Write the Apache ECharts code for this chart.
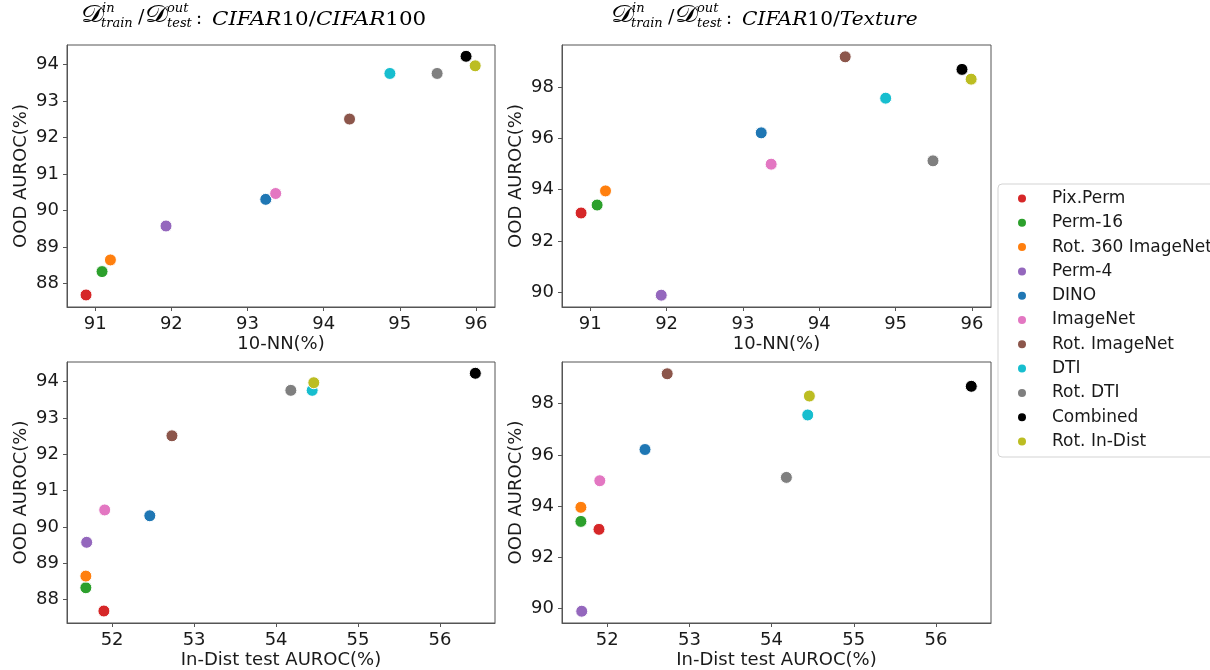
<!DOCTYPE html>
<html>
<head>
<meta charset="utf-8">
<script src="https://cdn.jsdelivr.net/npm/echarts@6/dist/echarts.min.js"></script>
<style>
  html, body { margin: 0; padding: 0; background: #fff; }
  #chart { width: 1210px; height: 670px; }
</style>
</head>
<body>
<div id="chart"></div>
<script>
// ---- data ----
const methods = ['Pix.Perm', 'Perm-16', 'Rot. 360 ImageNet', 'Perm-4', 'DINO', 'ImageNet',
                 'Rot. ImageNet', 'DTI', 'Rot. DTI', 'Combined', 'Rot. In-Dist'];
const colors = ['#d62728', '#2ca02c', '#ff7f0e', '#9467bd', '#1f77b4', '#e377c2',
                '#8c564b', '#17becf', '#7f7f7f', '#000000', '#bcbd22'];
const knn     = [90.88, 91.09, 91.20, 91.93, 93.24, 93.37, 94.34, 94.87, 95.49, 95.87, 95.99];
const inDist  = [51.90, 51.68, 51.68, 51.69, 52.46, 51.91, 52.73, 54.44, 54.18, 56.43, 54.46];
const oodC100 = [87.69, 88.33, 88.65, 89.58, 90.31, 90.47, 92.51, 93.76, 93.76, 94.23, 93.97];
const oodTex  = [93.09, 93.40, 93.95, 89.89, 96.21, 94.99, 99.17, 97.56, 95.12, 98.68, 98.30];

const ticksKnn  = [91, 92, 93, 94, 95, 96];
const ticksInD  = [52, 53, 54, 55, 56];
const ticksC100 = [88, 89, 90, 91, 92, 93, 94];
const ticksTex  = [90, 92, 94, 96, 98];

// ---- layout ----
const grids = [
  { left: 67,  top: 45,  width: 428, height: 262 },
  { left: 562, top: 45,  width: 429, height: 262 },
  { left: 67,  top: 362, width: 428, height: 261 },
  { left: 562, top: 362, width: 429, height: 261 }
];
const spine = '#555';
const txt = '#1a1a1a';
const sans = 'DejaVu Sans';

function xAxis(gi, min, max, ticks, name) {
  return {
    type: 'value', gridIndex: gi, min: min, max: max,
    name: name, nameLocation: 'middle', nameGap: 28,
    nameTextStyle: { fontSize: 18, color: txt, fontFamily: sans },
    axisLine: { show: true, onZero: false, lineStyle: { color: spine, width: 1 } },
    axisTick: { show: true, length: 4, customValues: ticks, lineStyle: { color: spine } },
    axisLabel: { show: true, customValues: ticks, fontSize: 18, color: txt, fontFamily: sans, margin: 8 },
    splitLine: { show: false }
  };
}
function yAxis(gi, min, max, ticks, name) {
  return {
    type: 'value', gridIndex: gi, min: min, max: max,
    name: name, nameLocation: 'middle', nameGap: 37,
    nameTextStyle: { fontSize: 18, color: txt, fontFamily: sans },
    axisLine: { show: true, onZero: false, lineStyle: { color: spine, width: 1 } },
    axisTick: { show: true, length: 4, customValues: ticks, lineStyle: { color: spine } },
    axisLabel: { show: true, customValues: ticks, fontSize: 18, color: txt, fontFamily: sans, margin: 8 },
    splitLine: { show: false }
  };
}

const xAxes = [
  xAxis(0, 90.63, 96.25, ticksKnn, '10-NN(%)'),
  xAxis(1, 90.63, 96.25, ticksKnn, '10-NN(%)'),
  xAxis(2, 51.45, 56.67, ticksInD, 'In-Dist test AUROC(%)'),
  xAxis(3, 51.45, 56.67, ticksInD, 'In-Dist test AUROC(%)')
];
const yAxes = [
  yAxis(0, 87.36, 94.54, ticksC100, 'OOD AUROC(%)'),
  yAxis(1, 89.43, 99.63, ticksTex, 'OOD AUROC(%)'),
  yAxis(2, 87.36, 94.54, ticksC100, 'OOD AUROC(%)'),
  yAxis(3, 89.43, 99.63, ticksTex, 'OOD AUROC(%)')
];

const panels = [
  { xs: knn, ys: oodC100 },
  { xs: knn, ys: oodTex },
  { xs: inDist, ys: oodC100 },
  { xs: inDist, ys: oodTex }
];

const series = [];
panels.forEach((p, gi) => {
  methods.forEach((m, i) => {
    series.push({
      type: 'scatter', name: m, xAxisIndex: gi, yAxisIndex: gi,
      symbol: 'circle', symbolSize: 12,
      itemStyle: { color: colors[i], borderColor: '#fff', borderWidth: 1, opacity: 1 },
      data: [[p.xs[i], p.ys[i]]]
    });
  });
});

// ---- titles (math-like) ----
const serif = 'DejaVu Serif';
function titleEls(x0, restRich, scaleX) {
  const it = (t, dx, y, size) => ({
    type: 'text', x: x0 + dx, y: y,
    style: { text: t, fontFamily: serif, fontStyle: 'italic', fontSize: size, fill: '#000',
             align: 'left', verticalAlign: 'middle' }
  });
  const D = (dx) => ({
    type: 'text', x: x0 + dx, y: 16, scaleX: 1.2,
    style: { text: '\u{1D49F}', fontFamily: 'DejaVu Sans, DejaVu Serif, serif', fontSize: 24, fill: '#000',
             align: 'left', verticalAlign: 'middle' }
  });
  return [
    D(0),
    it('in', 21, 9, 13),
    it('train', 20, 24, 13),
    { type: 'text', x: x0 + 57, y: 18,
      style: { text: '/', fontFamily: serif, fontSize: 19, fill: '#000', align: 'left', verticalAlign: 'middle' } },
    D(64),
    it('out', 86, 9, 13),
    it('test', 86, 24, 13),
    { type: 'text', x: x0 + 115, y: 19,
      style: { text: ':', fontFamily: serif, fontSize: 18, fill: '#000', align: 'left', verticalAlign: 'middle' } },
    { type: 'text', x: x0 + 131, y: 20, scaleX: scaleX,
      style: { text: restRich, fontFamily: serif, fontSize: 18, fill: '#000', align: 'left', verticalAlign: 'middle',
               rich: {
                 i: { fontFamily: serif, fontStyle: 'italic', fontSize: 18, fill: '#000' },
                 n: { fontFamily: serif, fontStyle: 'normal', fontSize: 18, fill: '#000' }
               } } }
  ];
}

const graphic = [].concat(
  titleEls(81, '{i|CIFAR}{n|10/}{i|CIFAR}{n|100}', 1.19),
  titleEls(611, '{i|CIFAR}{n|10/}{i|Texture}', 1.12)
);

const option = {
  animation: false,
  backgroundColor: '#fff',
  grid: grids.map(g => Object.assign({ show: true, borderColor: spine, borderWidth: 1, backgroundColor: 'transparent' }, g)),
  xAxis: xAxes,
  yAxis: yAxes,
  legend: {
    data: methods,
    orient: 'vertical',
    left: 998, top: 184,
    icon: 'circle',
    itemWidth: 8, itemHeight: 8, itemGap: 7.3,
    padding: [6, 14, 7, 20],
    borderColor: '#d3d3d3', borderWidth: 1, borderRadius: 4,
    backgroundColor: '#fff',
    itemStyle: { borderWidth: 0 },
    textStyle: { fontSize: 17, lineHeight: 17, color: txt, fontFamily: sans, padding: [0, 0, 0, 21] }
  },
  graphic: graphic,
  series: series
};

const chart = echarts.init(document.getElementById('chart'), null, { renderer: 'canvas' });
chart.setOption(option);
</script>
</body>
</html>
